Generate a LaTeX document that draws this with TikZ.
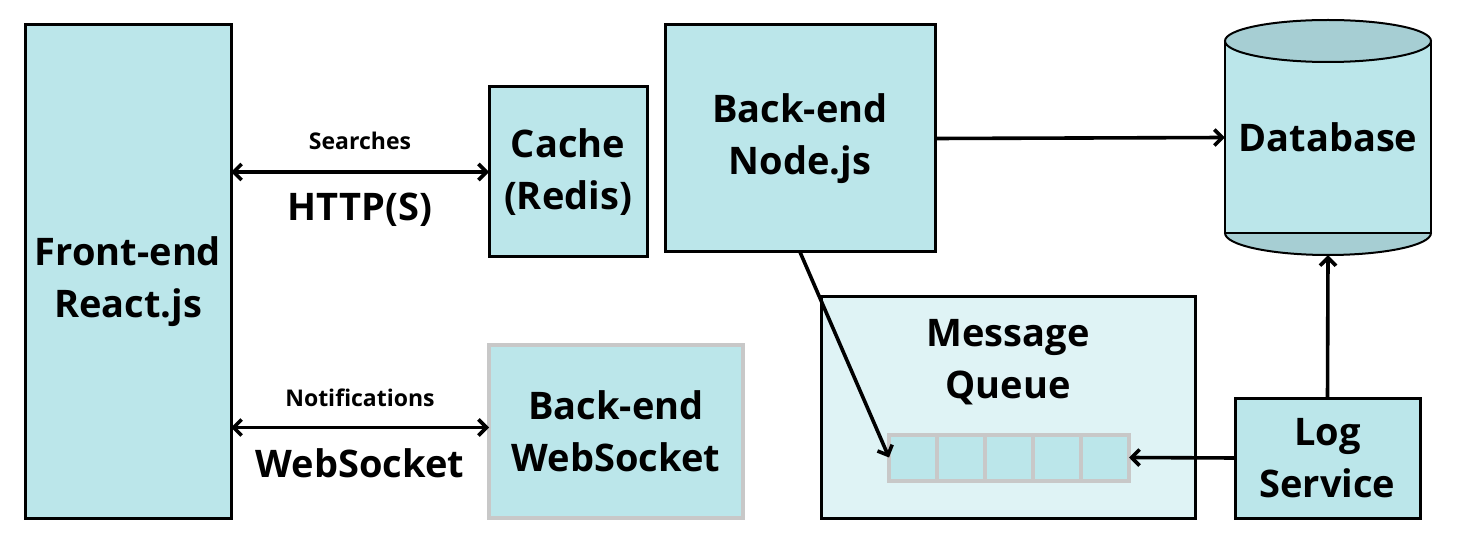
\documentclass[tikz,border=0pt]{standalone}
\usepackage{fontspec}
\setmainfont{Open Sans}
\usetikzlibrary{arrows.meta,positioning}

\definecolor{boxfill}{RGB}{187,230,234}
\definecolor{mqfill}{RGB}{223,243,245}
\definecolor{capfill}{RGB}{166,206,211}
\definecolor{cellgray}{RGB}{200,200,200}
\newcommand{\bigtxt}{\fontsize{38}{52}\selectfont\bfseries}
\newcommand{\smalltxt}{\fontsize{23}{27}\selectfont\bfseries}

\begin{document}
\begin{tikzpicture}[x=1pt,y=-1pt,
    block/.style={draw,line width=3pt,fill=boxfill,rectangle,outer sep=0pt,align=center,font=\bigtxt},
    cell/.style={draw=cellgray,line width=4pt,fill=boxfill,rectangle,outer sep=0pt,
      minimum width=48pt,minimum height=46pt,node distance=0pt},
    link/.style={line width=3.6pt,-{Straight Barb[length=8pt,width=16pt,line width=3.6pt]}},
    dlink/.style={link,{Straight Barb[length=8pt,width=16pt,line width=3.6pt]}-{Straight Barb[length=8pt,width=16pt,line width=3.6pt]}}]

        \useasboundingbox (0,0) rectangle (1462,545);

        \node [block, minimum width=206pt, minimum height=493pt] (front) at (128,271.5) {\rule{0pt}{49pt}Front-end\\React.js};
        \node [block, minimum width=158pt, minimum height=170pt] (cache) at (568,172) {Cache\\(Redis)};
        \node [block, minimum width=270pt, minimum height=227pt] (back) at (800,138.5) {Back-end\\Node.js};
        \node [block, draw=cellgray, line width=4pt, minimum width=254pt, minimum height=173pt] (ws) at (616,431.5) {Back-end\\WebSocket};
        \node [block, fill=mqfill, minimum width=374pt, minimum height=221pt] (mq) at (1008,407.5) {};
        \node [align=center, font=\bigtxt] (mqlabel) at (1008,362) {Message\\Queue};
        \node [block, minimum width=185pt, minimum height=120pt] (log) at (1327.5,458) {Log\\Service};

        \node [cell] (c1) at (913,457.5) {};
        \node [cell, right = of c1] (c2) {};
        \node [cell, right = of c2] (c3) {};
        \node [cell, right = of c3] (c4) {};
        \node [cell, right = of c4] (c5) {};

        % database cylinder
        \filldraw [fill=capfill, line width=2pt] (1328,233) ellipse [x radius=103, y radius=22];
        \filldraw [fill=boxfill, line width=2pt] (1225,41) rectangle (1431,233);
        \filldraw [fill=capfill, line width=2pt] (1328,41) ellipse [x radius=103, y radius=21];
        \node [font=\bigtxt, minimum width=206pt, minimum height=235pt] (db) at (1328,137.5) {Database};

          \draw [dlink] (front.east |- cache.west) -- node [yshift=31pt, font=\smalltxt] {Searches}
            node [yshift=-38pt, font=\bigtxt] {HTTP(S)} (cache.west);
          \draw [dlink] ([yshift=4pt]front.east |- ws.west) -- node [yshift=30pt, font=\smalltxt] {Notifications}
            node [yshift=-36pt, font=\bigtxt] {WebSocket} ([yshift=4pt]ws.west);
          \draw [link] (back.east) -- (db.west);
          \draw [link] (back.south) -- (c1.west);
          \draw [link] (log.west) -- (c5.east);
          \draw [link] (log.north) -- (db.south);
        \end{tikzpicture}
\end{document}
